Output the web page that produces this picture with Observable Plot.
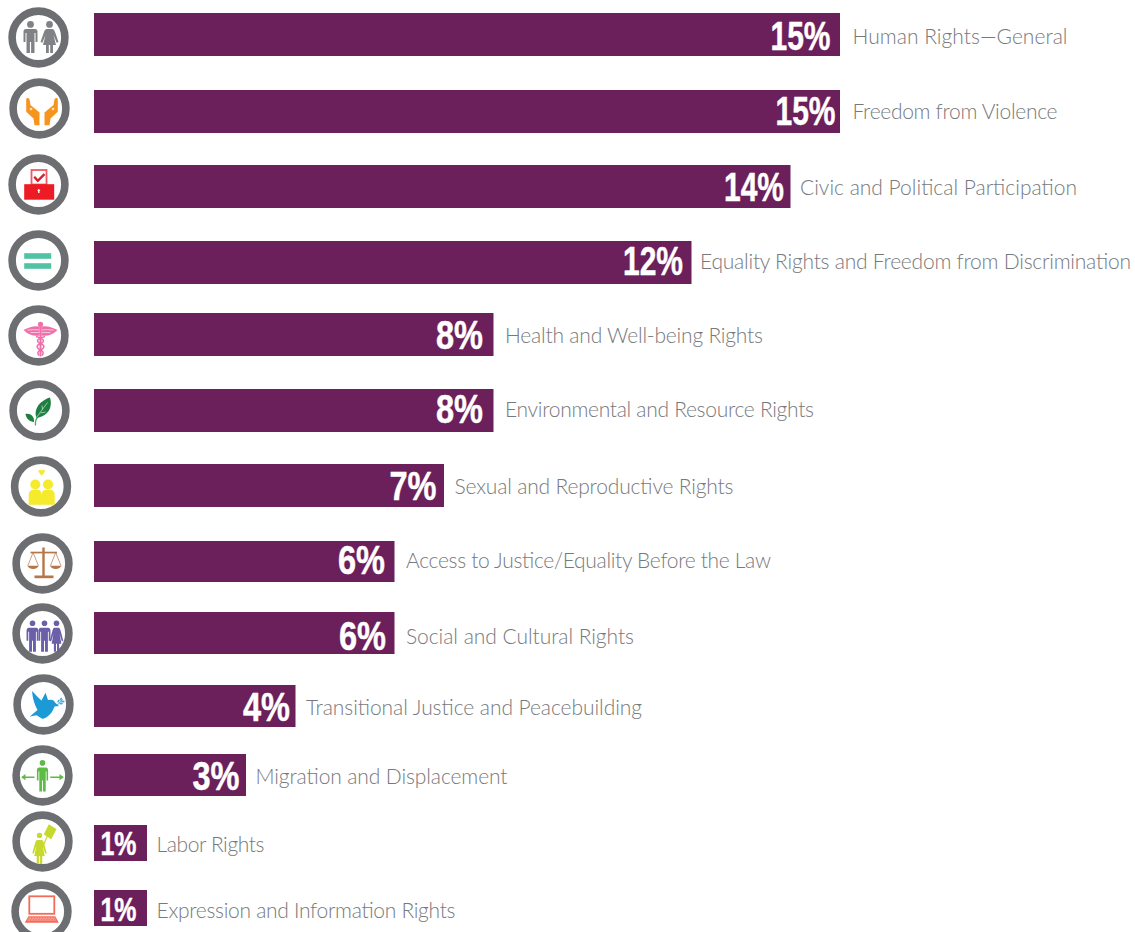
<!DOCTYPE html>
<html>
<head>
<meta charset="utf-8">
<script src="https://cdn.jsdelivr.net/npm/d3@7"></script>
<script src="https://cdn.jsdelivr.net/npm/@observablehq/plot@0.6"></script>
<style>
  html, body { margin: 0; padding: 0; background: #fff; overflow: hidden; }
  svg { display: block; }
</style>
</head>
<body>
<div id="chart"></div>
<script>
// Share of rights-related work by thematic area, in percent.
const categories = [
  "Human Rights—General",
  "Freedom from Violence",
  "Civic and Political Participation",
  "Equality Rights and Freedom from Discrimination",
  "Health and Well-being Rights",
  "Environmental and Resource Rights",
  "Sexual and Reproductive Rights",
  "Access to Justice/Equality Before the Law",
  "Social and Cultural Rights",
  "Transitional Justice and Peacebuilding",
  "Migration and Displacement",
  "Labor Rights",
  "Expression and Information Rights"
];
const shares = [15, 15, 14, 12, 8, 8, 7, 6, 6, 4, 3, 1, 1];

// Row layout: the rows are not evenly spaced, so each row gets its own stops on the y scale.
const barTops = [13, 90, 165, 241, 313, 389, 464, 541, 612, 685, 754, 825, 890];
const barBottoms = [56, 133, 208, 284, 356, 432, 507, 582, 654, 727, 796, 861, 926];
const iconRows = [37, 108, 184, 260, 335, 410, 486, 563, 633, 704, 775, 841, 911];
const iconColumns = [38, 39, 38, 38, 38, 39, 40.5, 42, 42, 43, 42, 42, 41];
const textRows = [36, 111, 187, 261, 335, 409, 486, 560, 636, 707, 776, 844, 910];
const shareInsets = [10, 5, 7, 9, 11, 11, 8, 10, 9, 6, 7, 11, 11];
const labelGaps = [12, 12, 9, 8, 11, 11, 10, 11, 11, 10, 9, 9, 9];
const labelWidths = [215, 205, 277, 431, 258, 309, 279, 365, 228, 336, 252, 108, 299];

const ringColor = "#6d6e71";

// Pictogram pieces, drawn around a shoulder point at the origin.
const man = "M-4.5 0H4.5Q7 0 7 2.5V13H5V4H4V24H.6V13H-.6V24H-4V4H-5V13H-7V2.5Q-7 0-4.5 0Z";
const woman = "M-3 0H3Q4.5 0 5.5 3L9 13 7.2 13.8 4 6 6.5 16H3.5V24H.7V16H-.7V24H-3.5V16H-6.5L-4 6-7.2 13.8-9 13-5.5 3Q-4.5 0-3 0Z";
const figure = (shape, x, y, fill, sx = 1, r = 3.4) =>
  `<circle cx="${x}" cy="${y - 4.6}" r="${r}" fill="${fill}"/>` +
  `<path transform="translate(${x} ${y}) scale(${sx} 1)" d="${shape}" fill="${fill}"/>`;

const pictograms = [
  // people
  figure(man, 24, 23.5, "#808285") + figure(woman, 43, 23.5, "#808285"),
  // open hands
  (() => {
    const hand = `<path d="M18.7 22Q20.5 20.5 22 22.7L23 28.5 32 36V48.7H27L26 42 18.7 35.3Z" fill="#f7941e"/><circle cx="23.5" cy="32.5" r="1.3" fill="#fde3c0"/>`;
    return hand + `<g transform="translate(69 0) scale(-1 1)">${hand}</g>`;
  })(),
  // ballot box
  `<rect x="25" y="17.5" width="15" height="14.5" fill="#fff" stroke="#ef5a64" stroke-width="1.8"/>
   <path d="M27.7 24.3 31.3 28.3 38 21.7" fill="none" stroke="#d2232a" stroke-width="2.4"/>
   <rect x="17.7" y="31.7" width="30" height="15.5" fill="#ed1c24"/>
   <path d="M32.3 36.2 34 38.2H33V40.5H31.6V38.2H30.6Z" fill="#fff"/>`,
  // equals sign
  `<rect x="17.7" y="24.7" width="27" height="5.6" fill="#52c2a5"/><rect x="17.7" y="34.7" width="27" height="5.6" fill="#52c2a5"/>`,
  // caduceus
  (() => {
    const c = "#f06eaa";
    const wing = `<path d="M17 26.5Q26 21.5 33.2 23V32Q24 33.5 17 26.5Z" fill="${c}"/><path d="M21 26.6Q27 25.8 33 26.4M24 29Q29 29.2 33 28.8" stroke="#fff" stroke-width=".6" fill="none"/>`;
    const snake = `<path d="M29.5 33C38.5 35.5 38.5 38 34 40 29.5 42 29.5 44.5 34 46.5 37.5 48 37 50.5 35.5 52" fill="none" stroke="${c}" stroke-width="1.5"/>`;
    return `<circle cx="34" cy="20.8" r="2.6" fill="${c}"/><rect x="33" y="20" width="2" height="33" fill="${c}"/>` +
      wing + `<g transform="translate(68 0) scale(-1 1)">${wing}${snake}</g>` + snake;
  })(),
  // leaves
  `<path d="M28 47C27.5 43 28 41 31 37" fill="none" stroke="#4fa86b" stroke-width="1.3"/>
   <path d="M42.5 19C45 28 42 37 29 39.5 25.5 30 33 22 42.5 19Z" fill="#1d7f40"/>
   <path d="M29 39 40 24M33 34.5 38 33.5M35 31 34.5 27" stroke="#cfe6d6" stroke-width=".7"/>
   <path d="M18 35.5C23 34.5 27 38 26.5 43.5 22 43 18.5 40 18 35.5Z" fill="#1d7f40"/>`,
  // couple with a heart
  `<path d="M32.7 21.2 29.6 17.6C28.6 15.8 31.4 14.2 32.7 16.2 34 14.2 36.8 15.8 35.8 17.6Z" fill="#f5ea2b"/>
   <circle cx="26.3" cy="30" r="5" fill="#f5ea2b"/><circle cx="39" cy="30" r="5" fill="#f5ea2b"/>
   <path d="M19.7 50.3V40.5Q19.7 35.3 25 35.3H28Q32.7 35.3 32.7 40.5 32.7 35.3 37.5 35.3H40.5Q45.7 35.3 45.7 40.5V50.3Z" fill="#f5ea2b"/>`,
  // scales
  (() => {
    const c = "#b5764b";
    const pan = (x) => `<path d="M${x} 21 ${x - 5.3} 34.3M${x} 21 ${x + 5.3} 34.3" stroke="${c}" stroke-width=".7" fill="none"/>
      <path d="M${x - 5.6} 34.3H${x + 5.6}Q${x + 4.5} 37.4 ${x} 37.4 ${x - 4.5} 37.4 ${x - 5.6} 34.3Z" fill="${c}"/>`;
    return `<rect x="31.8" y="16" width="2.4" height="28.5" fill="${c}"/><rect x="24" y="44" width="19" height="2.7" fill="${c}"/>
      <rect x="20" y="20.2" width="26.5" height="1.7" fill="${c}"/>` + pan(22.6) + pan(45.2);
  })(),
  // three figures holding hands
  figure(man, 22, 26.3, "#6a5fa8", .85, 2.8) + figure(man, 34, 26.3, "#6a5fa8", .85, 2.8) + figure(woman, 46, 26.3, "#6a5fa8", .75, 2.8),
  // dove with olive branch
  `<path d="M20.5 18.5C24 22 27 25.5 30 28L34 20.3 36.5 27.5Q39 27 41 27.5 43 28 43.5 30L47.5 33.5 43 34C41 40 36 46 30.7 46.3L25 42.8 18.3 44 26 37.5C23 32 21 26 20.5 18.5Z" fill="#1b9ad6"/>
   <path d="M45 33.5 51 27" stroke="#1b9ad6" stroke-width=".8"/>
   <g fill="#3fabdf"><ellipse cx="47" cy="28.6" rx="1.7" ry=".9" transform="rotate(-60 47 28.6)"/><ellipse cx="49.5" cy="26.6" rx="1.7" ry=".9" transform="rotate(-60 49.5 26.6)"/><ellipse cx="49.6" cy="31" rx="1.7" ry=".9"/><ellipse cx="51.4" cy="29" rx="1.7" ry=".9"/></g>`,
  // figure between two arrows
  figure(man, 32, 24, "#5dbb46", .8, 2.8) +
    `<path d="M11.5 33.7H24M39.7 33.7H52.5" stroke="#5dbb46" stroke-width="1.6"/>
     <path d="M10.7 33.7 15 30.6V36.8ZM53.3 33.7 49 30.6V36.8Z" fill="#5dbb46"/>`,
  // figure raising a placard
  figure(woman, 29, 30.5, "#c8d92e", .8, 2.7) +
    `<path d="M32 38 37 26" stroke="#c8d92e" stroke-width="1.2"/>
     <path d="M38.3 14.7 46 19.7 40.7 29.7 33.3 24.7Z" fill="#c8d92e"/>`,
  // laptop
  `<rect x="19.8" y="16.8" width="25" height="17.5" fill="#fff" stroke="#f26c5a" stroke-width="1.8"/>
   <path d="M18.8 36.7H45.8L49.3 43.3H15.3Z" fill="#f26c5a"/>
   <path d="M19 38.6H45.6M18 40.5H46.6" stroke="#fff" stroke-width=".7" stroke-dasharray="1 .6"/>`
];

const iconUri = (art) =>
  "data:image/svg+xml," + encodeURIComponent(
    `<svg xmlns="http://www.w3.org/2000/svg" width="64" height="64" viewBox="0 0 64 64">` +
    `<circle cx="32" cy="32" r="26.4" fill="#fff" stroke="${ringColor}" stroke-width="7.6"/>${art}</svg>`
  );

const rows = categories.map((category, i) => ({
  category,
  share: shares[i],
  slot: -1 - i,
  top: 4 * i,
  icon: 4 * i + 1,
  text: 4 * i + 2,
  bottom: 4 * i + 3,
  src: iconUri(pictograms[i])
}));

// x: icon columns occupy negative slots, shares run from 0 to 15.
const slots = rows.map((d) => d.slot).reverse();
const xDomain = [...slots, 0, 15];
const xRange = [...iconColumns.slice().reverse(), 97.5, 840];
const yStops = rows.flatMap((d, i) => [barTops[i], iconRows[i], textRows[i], barBottoms[i]]);

const chart = Plot.plot({
  width: 1135,
  height: 932,
  margin: 0,
  x: { axis: null, type: "linear", domain: xDomain, range: xRange },
  y: { axis: null, type: "linear", domain: yStops.map((_, i) => i), range: yStops },
  marks: [
    Plot.image(rows, { x: "slot", y: "icon", src: "src", width: 64, height: 64 }),
    Plot.rect(rows, {
      x1: () => 0, x2: "share", y1: "top", y2: "bottom",
      fill: "#6b205c", insetLeft: -3.5
    }),
    ...rows.map((d, i) => Plot.text([d], {
      x: "share", y: "text", text: (r) => `${r.share}%`,
      textAnchor: "end", lineAnchor: "middle", dx: -shareInsets[i],
      fill: "#fff", stroke: "#fff", strokeWidth: 0.5,
      fontFamily: "Liberation Sans", fontWeight: 700,
      fontSize: d.share === 1 ? 34 : 41
    })),
    ...rows.map((d, i) => Plot.text([d], {
      x: "share", y: "text", text: "category",
      textAnchor: "start", lineAnchor: "middle", dx: labelGaps[i], dy: 1,
      fill: "#77797c", fontFamily: "Lato", fontWeight: 300, fontSize: 21
    }))
  ]
});

// The share figures are a condensed cut and the labels are tracked to a set measure.
const texts = [...chart.querySelectorAll("text")];
shares.forEach((share, i) => {
  texts[i].setAttribute("textLength", share >= 10 ? 60 : share === 1 ? 36 : 47);
  texts[i].setAttribute("lengthAdjust", "spacingAndGlyphs");
  texts[i + shares.length].setAttribute("textLength", labelWidths[i]);
  texts[i + shares.length].setAttribute("lengthAdjust", "spacing");
});

document.getElementById("chart").append(chart);
</script>
</body>
</html>
